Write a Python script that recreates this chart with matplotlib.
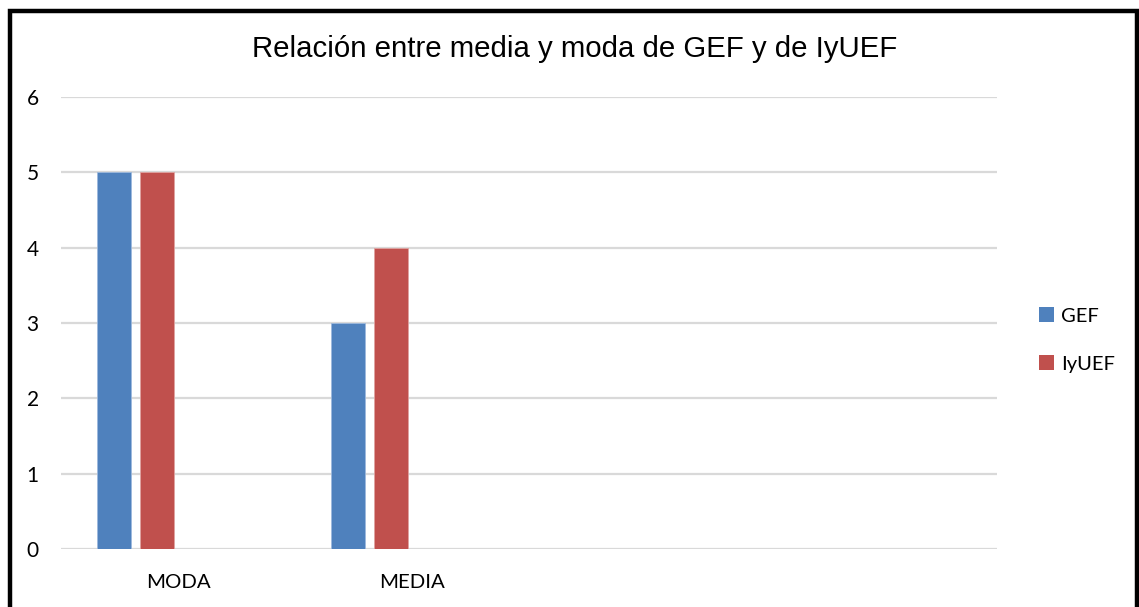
import numpy as np
import matplotlib.pyplot as plt
from matplotlib.patches import Rectangle, Patch

categories = ["MODA", "MEDIA", "", ""]
gef = [5, 3, np.nan, np.nan]
iyuef = [5, 4, np.nan, np.nan]
series_names = ["GEF", "IyUEF"]
yticks = [0, 1, 2, 3, 4, 5, 6]

blue = "#4F81BD"
red = "#C0504D"
grid_color = "#D9D9D9"

fig = plt.figure(figsize=(11.39, 6.07), dpi=100)
W, H = 1139, 607

# black frame around the chart (bottom edge runs past the picture)
fig.patches.append(Rectangle((9.5 / W, -0.05), (1137 - 9.5) / W, (H - 10.5) / H + 0.05,
                             transform=fig.transFigure, fill=False,
                             edgecolor="black", linewidth=3.2, zorder=10))

ax = fig.add_axes([61 / W, (H - 549) / H, (997 - 61) / W, (549 - 97) / H])

x = np.arange(len(categories))
width = 0.145
step = 0.182
ax.bar(x - 1.5 * step, gef, width, color=blue, edgecolor="#9DB9DD", linewidth=0.6,
       label=series_names[0], zorder=3)
ax.bar(x - 0.5 * step, iyuef, width, color=red, edgecolor="#E0A3A1", linewidth=0.6,
       label=series_names[1], zorder=3)

ax.set_xlim(-0.5, len(categories) - 0.5)
ax.set_ylim(0, 6)
ax.set_yticks(yticks)
ax.set_xticks(x)
ax.set_xticklabels(categories, fontsize=14.7, family=["Lato", "DejaVu Sans"])
for lbl in ax.get_yticklabels():
    lbl.set_fontsize(15)
    lbl.set_family(["Lato", "DejaVu Sans"])
ax.tick_params(axis="y", length=0, pad=16)
ax.tick_params(axis="x", length=0, pad=18)
ax.grid(axis="y", color=grid_color, linewidth=1.6, zorder=0)
for s in ax.spines.values():
    s.set_visible(False)

fig.text(575 / W, 1 - 49 / H, "Relación entre media y moda de GEF y de IyUEF",
         ha="center", va="center", fontsize=21.2, family="Liberation Sans")

handles = [Patch(facecolor=blue), Patch(facecolor=red)]
fig.legend(handles, series_names, loc="center left",
           bbox_to_anchor=(1021 / W, 1 - 340 / H), frameon=False,
           prop={"family": "Lato", "size": 14.5}, handlelength=0.75,
           handleheight=0.75, handletextpad=0.35, labelspacing=1.5)

fig.savefig("out.png", dpi=100)
